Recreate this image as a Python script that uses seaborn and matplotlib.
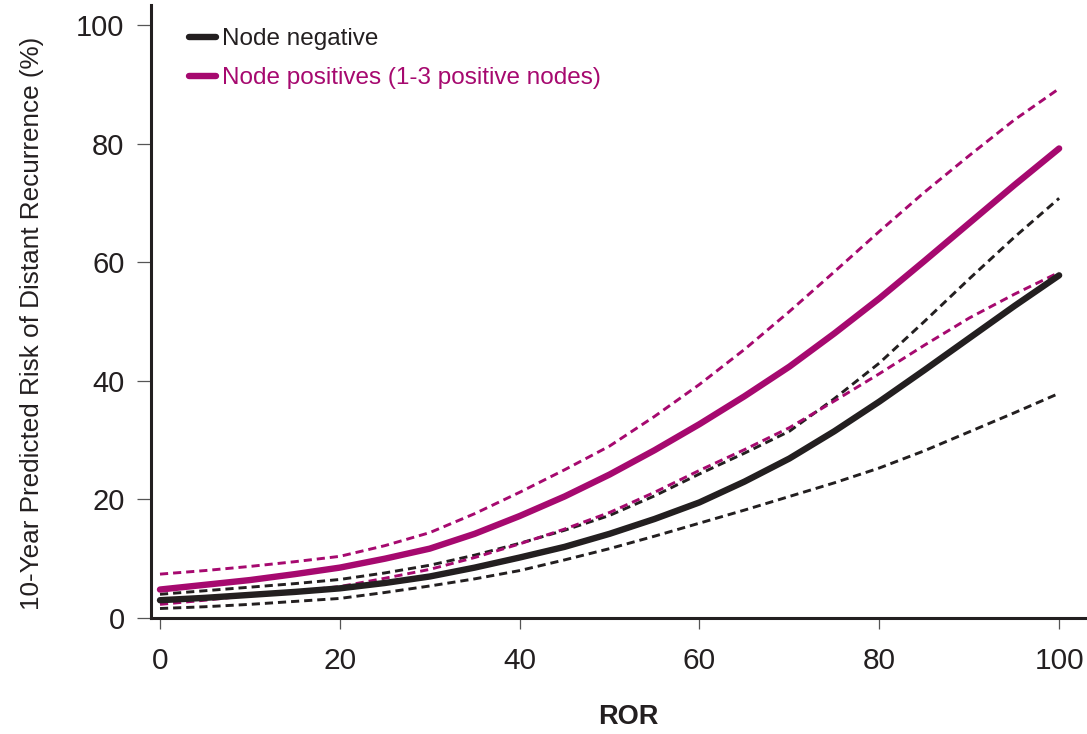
import matplotlib
matplotlib.use("Agg")
import matplotlib.pyplot as plt
from matplotlib.lines import Line2D
import seaborn as sns
import pandas as pd

sns.set_style("ticks")
plt.rcParams["font.family"] = ["Liberation Sans", "DejaVu Sans"]

BLACK = "#231f20"
MAGENTA = "#a6096f"

ror = [0, 5, 10, 15, 20, 25, 30, 35, 40, 45, 50, 55, 60, 65, 70, 75, 80, 85, 90, 95, 100]

# node negative: estimate and 95% band
neg_est = [3.0, 3.4, 3.9, 4.4, 5.0, 5.9, 7.0, 8.5, 10.2, 12.0, 14.2, 16.7, 19.5, 23.0, 26.9, 31.5, 36.5, 41.8, 47.2, 52.6, 57.8]
neg_hi = [4.0, 4.6, 5.2, 5.8, 6.5, 7.6, 8.9, 10.6, 12.6, 14.8, 17.3, 20.6, 24.3, 27.8, 31.5, 37.0, 43.0, 50.0, 57.2, 64.2, 70.8]
neg_lo = [1.6, 1.9, 2.3, 2.8, 3.3, 4.3, 5.4, 6.6, 8.0, 9.8, 11.7, 13.8, 16.0, 18.2, 20.5, 22.8, 25.3, 28.2, 31.4, 34.6, 37.9]

# node positive (1-3 nodes): estimate and 95% band
pos_est = [4.8, 5.6, 6.4, 7.4, 8.5, 10.0, 11.7, 14.2, 17.2, 20.5, 24.2, 28.3, 32.7, 37.4, 42.4, 48.0, 53.9, 60.2, 66.6, 73.0, 79.2]
pos_hi = [7.4, 8.0, 8.7, 9.5, 10.4, 12.2, 14.4, 17.6, 21.2, 25.0, 29.0, 34.0, 39.4, 45.3, 51.7, 58.4, 65.2, 71.8, 78.0, 84.0, 89.3]
pos_lo = [2.3, 3.0, 3.8, 4.5, 5.3, 6.7, 8.2, 10.2, 12.5, 15.0, 17.8, 21.2, 24.9, 28.4, 32.1, 36.6, 41.2, 46.0, 50.6, 54.6, 58.3]

df = pd.DataFrame({"ror": ror, "neg_est": neg_est, "neg_hi": neg_hi, "neg_lo": neg_lo,
                   "pos_est": pos_est, "pos_hi": pos_hi, "pos_lo": pos_lo})

fig = plt.figure(figsize=(10.87, 7.34), dpi=100)
ax = fig.add_axes([151 / 1087, 116 / 734, 936 / 1087, 613 / 734])

# confidence bands (dashed) first, estimates on top
for col, c in [("neg_hi", BLACK), ("neg_lo", BLACK), ("pos_hi", MAGENTA), ("pos_lo", MAGENTA)]:
    sns.lineplot(data=df, x="ror", y=col, ax=ax, color=c, lw=2.1, dashes=False,
                 linestyle=(0, (2.8, 1.7)), solid_joinstyle="round")
sns.lineplot(data=df, x="ror", y="neg_est", ax=ax, color=BLACK, lw=4.6,
             solid_capstyle="round", solid_joinstyle="round")
sns.lineplot(data=df, x="ror", y="pos_est", ax=ax, color=MAGENTA, lw=4.6,
             solid_capstyle="round", solid_joinstyle="round")

ax.set_xlim(-1.0, 103.1)
ax.set_ylim(0, 103.4)
ax.set_xticks([0, 20, 40, 60, 80, 100])
ax.set_yticks([0, 20, 40, 60, 80, 100])
sns.despine(ax=ax)
for s in ["left", "bottom"]:
    ax.spines[s].set_linewidth(2.2)
    ax.spines[s].set_color(BLACK)
ax.tick_params(axis="y", length=10, width=0.9, color="#555555", pad=9, labelsize=21, labelcolor=BLACK)
ax.tick_params(axis="x", length=8, width=0.9, color="#555555", pad=13, labelsize=21.5, labelcolor=BLACK)

ax.set_xlabel("ROR", fontsize=19.5, fontweight="bold", color=BLACK)
ax.xaxis.set_label_coords((628 - 151) / 936, -0.14)
ax.set_ylabel("10-Year Predicted Risk of Distant Recurrence (%)", fontsize=18.8, color=BLACK)
ax.yaxis.set_label_coords(-0.114, 0.481)

handles = [Line2D([], [], color=BLACK, lw=4.6),
           Line2D([], [], color=MAGENTA, lw=4.6)]
leg = ax.legend(handles, ["Node negative", "Node positives (1-3 positive nodes)"],
                loc="upper left", bbox_to_anchor=(0.03, 0.978), frameon=False,
                fontsize=17.5, handlelength=1.1, handletextpad=0.25, labelspacing=0.7,
                borderaxespad=0)
for t, c in zip(leg.get_texts(), [BLACK, MAGENTA]):
    t.set_color(c)

fig.savefig("out.png", dpi=100)
